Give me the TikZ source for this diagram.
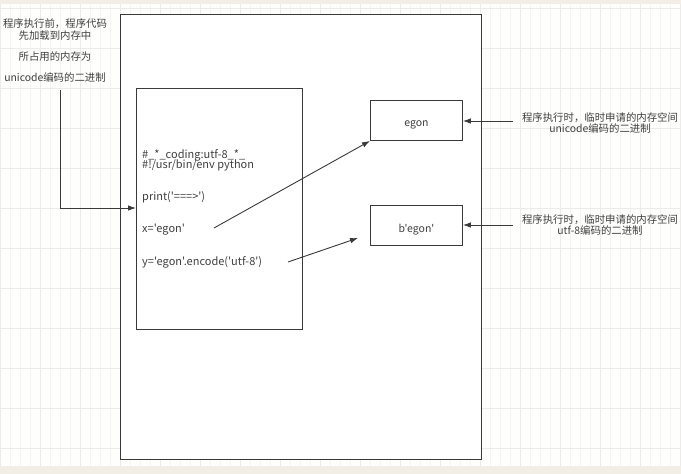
\documentclass[tikz,border=0pt]{standalone}
\usepackage{fontspec}
\newfontfamily\cjk{Noto Sans CJK SC}
\usetikzlibrary{arrows.meta}
\definecolor{bgc}{HTML}{FEFEFD}
\definecolor{gridc}{HTML}{F5F4F3}
\definecolor{majc}{HTML}{ECEBE9}
\definecolor{stripc}{HTML}{F2EEE6}
\definecolor{linec}{HTML}{3A3A3A}
\definecolor{txtc}{HTML}{404040}
\tikzset{
  box/.style={draw=linec, line width=0.9pt, fill=white},
  conn/.style={draw=linec, line width=0.9pt, -{Latex[length=8pt,width=5.5pt]}},
  lbl/.style={text=txtc, font=\cjk\fontsize{10.4}{11.5}\selectfont, align=center, inner sep=0pt},
  boxtxt/.style={text=txtc, font=\cjk\fontsize{10.5}{11}\selectfont, inner sep=0pt},
  code/.style={text=txtc, font=\cjk\fontsize{11}{10}\selectfont, anchor=west, inner sep=0pt}
}
\begin{document}
\begin{tikzpicture}[x=1pt,y=-1pt]
\useasboundingbox (0,0) rectangle (681,474);
\fill[bgc] (0,0) rectangle (681,474);
\draw[gridc, line width=0.4pt] (0,4) grid[step=10] (681,466);
\foreach \x in {0,40,...,680} \draw[majc, line width=0.5pt] (\x,4) -- (\x,466);
\foreach \y in {8,48,...,466} \draw[majc, line width=0.5pt] (0,\y) -- (681,\y);
\fill[stripc] (0,0) rectangle (681,4);
\fill[stripc] (0,466) rectangle (681,474);
% outer memory box
\node[box, minimum width=361pt, minimum height=445pt, anchor=north west] (mem) at (120,14) {};
% code box
\node[box, minimum width=166pt, minimum height=241pt, anchor=north west] (codebox) at (136,88) {};
\node[box, minimum width=92pt, minimum height=40pt, anchor=north west] (egon) at (370,100) {};
\node[box, minimum width=92pt, minimum height=40pt, anchor=north west] (begon) at (370,205) {};
\node[boxtxt] (egont) at ([yshift=-4pt]egon.center) {egon};
\node[boxtxt] (begont) at ([yshift=-4pt]begon.center) {b'egon'};
% code lines
\node[code] (c1) at (142,155) {\#\_*\_coding:utf-8\_*\_};
\node[code] (c2) at (142,165) {\#!/usr/bin/env python};
\node[code] (c3) at (142,197) {print('===>')};
\node[code] (c4) at (142,230) {x='egon'};
\node[code] (c5) at (142,262) {y='egon'.encode('utf-8')};
% left label
\node[lbl, anchor=north] (ltxt) at (55,19) {程序执行前，程序代码\\先加载到内存中\\[9.5pt]所占用的内存为\\[9.5pt]unicode编码的二进制};
\coordinate (lc) at (60,90);
\coordinate (lk) at (60,208);
\draw[conn] (lc) -- (lk) -- (codebox.west |- lk);
% right labels
\node[lbl] (r1) at (600,123) {程序执行时，临时申请的内存空间\\unicode编码的二进制};
\node[lbl] (r2) at (600,225) {程序执行时，临时申请的内存空间\\utf-8编码的二进制};
\coordinate (r1s) at (513,121);
\coordinate (r2s) at (513,225);
\draw[conn] (r1s) -- (egon.east |- r1s);
\draw[conn] (r2s) -- (begon.east |- r2s);
% code arrows
\coordinate (x1) at (214,228);
\coordinate (y1) at (288,262);
\coordinate (y2) at (358,238);
\draw[conn] (x1) -- (egon.south west);
\draw[conn] (y1) -- (y2);
\end{tikzpicture}
\end{document}
